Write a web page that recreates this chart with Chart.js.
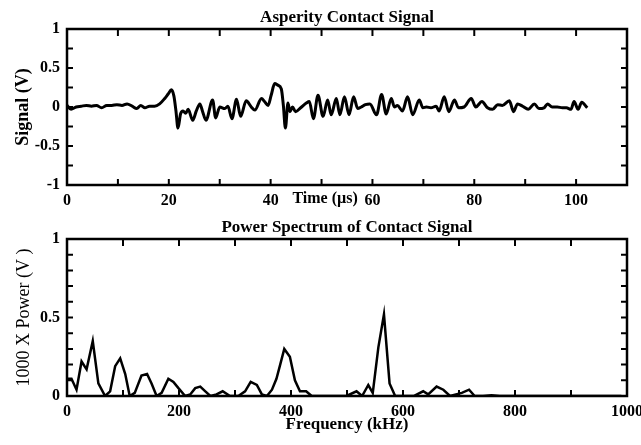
<!DOCTYPE html>
<html>
<head>
<meta charset="utf-8">
<script src="https://cdn.jsdelivr.net/npm/chart.js@4.4.1/dist/chart.umd.min.js"></script>
<style>
  body { margin: 0; background: #fff; }
  canvas { display: block; }
</style>
</head>
<body>
<canvas id="sigChart" width="641" height="212"></canvas>
<canvas id="powChart" width="641" height="233"></canvas>
<script>
// asperity contact signal
const timeUs = [
  0, 0.8, 1.8, 2.8, 3.8, 4.8, 5.8, 6.8, 7.8, 8.8,
  9.8, 10.8, 11.8, 12.8, 13.7, 14.5, 15.3, 16.2, 17.2, 18.2,
  19.2, 19.9, 20.5, 21.0, 21.4, 21.8, 22.3, 22.8, 23.3, 23.8,
  24.7, 25.4, 26.1, 26.6, 27.3, 28.6, 29.2, 30.0, 31.0, 31.6,
  32.4, 33.3, 34.1, 35.2, 36.2, 36.9, 38.2, 38.8, 39.5, 40.1,
  40.8, 41.4, 42.1, 42.5, 42.9, 43.4, 43.8, 44.3, 44.9, 45.9,
  47.0, 47.6, 48.4, 49.3, 50.3, 51.2, 51.9, 52.9, 53.6, 54.5,
  55.4, 56.3, 57.1, 57.8, 58.6, 59.5, 60.8, 61.8, 62.7, 63.7,
  64.3, 64.9, 65.9, 66.9, 67.9, 69.2, 69.9, 70.6, 71.5, 72.5,
  73.1, 74.1, 75.0, 76.1, 76.9, 78.0, 79.4, 80.3, 81.5, 82.6,
  83.6, 84.6, 85.5, 86.9, 87.7, 88.5, 89.5, 90.6, 91.8, 92.7,
  93.7, 94.4, 95.3, 96.3, 97.3, 98.1, 99.0, 99.6, 100.4, 101.1,
  102.2
];
const signalV = [
  0.02, -0.03, 0.0, 0.01, 0.02, 0.01, 0.02, -0.01, 0.02, 0.02,
  0.03, 0.02, 0.04, 0.01, -0.02, 0.02, -0.01, 0.01, 0.01, 0.04,
  0.11, 0.17, 0.22, 0.14, -0.05, -0.27, -0.09, -0.05, -0.08, -0.03,
  -0.17, -0.05, 0.04, -0.05, -0.17, 0.09, -0.14, 0.0, -0.02, 0.01,
  -0.15, 0.10, -0.12, 0.08, 0.0, -0.04, 0.11, 0.07, 0.02, 0.15,
  0.30, 0.28, 0.23, 0.02, -0.27, 0.05, -0.06, 0.0, -0.06, -0.01,
  0.05, 0.07, -0.15, 0.15, -0.12, 0.09, -0.10, 0.11, -0.10, 0.13,
  -0.10, 0.13, -0.02, 0.0, 0.03, 0.04, -0.10, 0.16, -0.09, 0.11,
  0.0, 0.02, -0.05, 0.13, -0.10, 0.09, -0.01, 0.0, -0.01, 0.01,
  -0.05, 0.13, -0.06, 0.09, -0.01, 0.0, 0.11, 0.0, 0.07, -0.01,
  -0.03, 0.03, 0.02, 0.08, -0.06, 0.04, 0.01, -0.03, 0.04, -0.02,
  -0.01, 0.04, 0.0, 0.0, -0.01, -0.01, -0.03, 0.07, -0.03, 0.06,
  -0.01
];

// power spectrum
const freqKHz = [
  0, 8, 17, 26, 35, 46, 56, 68, 77, 86,
  95, 104, 112, 121, 133, 143, 151, 160, 169, 181,
  190, 199, 211, 220, 229, 238, 247, 256, 267, 278,
  291, 306, 318, 328, 339, 348, 357, 366, 374, 380,
  388, 398, 407, 416, 427, 437, 452, 482, 499, 517,
  527, 538, 546, 556, 566, 576, 586, 619, 636, 645,
  660, 672, 684, 705, 718, 728, 743, 758, 773, 990
];
const powerV = [
  0.11, 0.11, 0.04, 0.22, 0.17, 0.35, 0.08, 0.0, 0.03, 0.19,
  0.24, 0.14, 0.0, 0.02, 0.13, 0.14, 0.08, 0.0, 0.02, 0.11,
  0.09, 0.05, 0.0, 0.01, 0.05, 0.06, 0.03, 0.0, 0.01, 0.03,
  0.0, 0.0, 0.03, 0.09, 0.07, 0.01, 0.0, 0.04, 0.11, 0.19,
  0.30, 0.25, 0.10, 0.03, 0.03, 0.0, 0.0, 0.0, 0.0, 0.03,
  0.0, 0.07, 0.02, 0.31, 0.52, 0.08, 0.0, 0.0, 0.03, 0.01,
  0.06, 0.04, 0.0, 0.02, 0.04, 0.0, 0.0, 0.005, 0.0, 0.0
];

const timeTicks = [0, 20, 40, 60, 80, 100];
const timeMinor = [10, 20, 30, 40, 50, 60, 70, 80, 90, 100];
const signalTicks = [-1, -0.5, 0, 0.5, 1];
const signalMinor = [-0.75, -0.5, -0.25, 0, 0.25, 0.5, 0.75];
const freqTicks = [0, 200, 400, 600, 800, 1000];
const freqMinor = [100, 200, 300, 400, 500, 600, 700, 800, 900];
const powerTicks = [0, 0.5, 1];
const powerMinor = [0.1, 0.2, 0.3, 0.4, 0.5, 0.6, 0.7, 0.8, 0.9];

const serif = '"Liberation Serif", "Times New Roman", serif';
Chart.defaults.font.family = serif;
Chart.defaults.color = '#000';

// box round the plot, inward ticks and the titles
const framePlugin = {
  id: 'frame',
  afterDraw(chart, args, opts) {
    const { ctx, chartArea: a } = chart;
    const x = chart.scales.x, y = chart.scales.y;
    ctx.save();
    ctx.strokeStyle = '#000';
    ctx.lineWidth = 2;
    ctx.beginPath();
    opts.xMinor.forEach(v => {
      const px = x.getPixelForValue(v);
      ctx.moveTo(px, a.top); ctx.lineTo(px, a.top + 7);
      ctx.moveTo(px, a.bottom); ctx.lineTo(px, a.bottom - 6);
    });
    opts.yMinor.forEach(v => {
      const py = y.getPixelForValue(v);
      ctx.moveTo(a.left, py); ctx.lineTo(a.left + 6, py);
      ctx.moveTo(a.right, py); ctx.lineTo(a.right - 6, py);
    });
    ctx.stroke();
    ctx.lineWidth = 2.5;
    ctx.strokeRect(a.left, a.top, a.right - a.left, a.bottom - a.top);

    ctx.fillStyle = '#000';
    ctx.textAlign = 'center';
    ctx.textBaseline = 'middle';
    ctx.font = 'bold 17px ' + serif;
    ctx.fillText(opts.title, (a.left + a.right) / 2, a.top - 11);
    if (opts.inlineLabel) {
      ctx.font = 'bold 16px ' + serif;
      ctx.fillText(opts.inlineLabel, x.getPixelForValue(opts.inlineAt), a.bottom + 14);
    }
    ctx.restore();
  }
};

function makeChart(id, xs, ys, cfg) {
  const pts = xs.map((v, i) => ({ x: v, y: ys[i] }));
  return new Chart(document.getElementById(id), {
    type: 'line',
    data: {
      datasets: [{
        data: pts,
        borderColor: '#000',
        borderWidth: cfg.lineWidth,
        pointRadius: 0,
        tension: cfg.tension,
        cubicInterpolationMode: cfg.tension ? 'monotone' : 'default',
        fill: false
      }]
    },
    options: {
      responsive: false,
      animation: false,
      devicePixelRatio: 1,
      layout: { padding: { top: cfg.padTop, right: 14, left: 0, bottom: 0 } },
      plugins: {
        legend: { display: false },
        tooltip: { enabled: false },
        frame: {
          title: cfg.title,
          xMinor: cfg.xMinor,
          yMinor: cfg.yMinor,
          inlineLabel: cfg.inlineLabel,
          inlineAt: cfg.inlineAt
        }
      },
      scales: {
        x: {
          type: 'linear',
          min: cfg.xMin, max: cfg.xMax,
          grid: { display: false, drawTicks: false },
          border: { display: false },
          ticks: {
            padding: 6,
            maxRotation: 0,
            font: { size: 16, weight: 'bold' },
            callback: v => String(v)
          },
          afterBuildTicks: s => { s.ticks = cfg.xTicks.map(v => ({ value: v })); },
          afterFit: s => { s.height = cfg.xHeight; s.paddingLeft = 0; s.paddingRight = 0; },
          title: cfg.xTitle ? {
            display: true,
            text: cfg.xTitle,
            font: { size: 17, weight: 'bold' },
            padding: { top: 0, bottom: 10 }
          } : { display: false }
        },
        y: {
          type: 'linear',
          min: cfg.yMin, max: cfg.yMax,
          grid: { display: false, drawTicks: false },
          border: { display: false },
          ticks: {
            padding: 7,
            font: { size: 16, weight: 'bold' },
            callback: v => String(v)
          },
          afterBuildTicks: s => { s.ticks = cfg.yTicks.map(v => ({ value: v })); },
          afterFit: s => { s.width = 67; },
          title: {
            display: true,
            text: cfg.yTitle,
            font: { size: 18, weight: cfg.yTitleWeight },
            padding: { top: 13, bottom: 0 }
          }
        }
      }
    },
    plugins: [framePlugin]
  });
}

makeChart('sigChart', timeUs, signalV, {
  title: 'Asperity Contact Signal',
  xMin: 0, xMax: 110, yMin: -1, yMax: 1,
  xTicks: timeTicks, yTicks: signalTicks,
  xMinor: timeMinor, yMinor: signalMinor,
  yTitle: 'Signal (V)', yTitleWeight: 'bold',
  inlineLabel: 'Time (\u00b5s)', inlineAt: 50.7,
  lineWidth: 3, tension: 0.4,
  padTop: 29, xHeight: 27
});

makeChart('powChart', freqKHz, powerV, {
  title: 'Power Spectrum of Contact Signal',
  xMin: 0, xMax: 1000, yMin: 0, yMax: 1,
  xTicks: freqTicks, yTicks: powerTicks,
  xMinor: freqMinor, yMinor: powerMinor,
  yTitle: '1000 X Power (V )', yTitleWeight: 'normal',
  xTitle: 'Frequency (kHz)',
  lineWidth: 2.5, tension: 0,
  padTop: 27, xHeight: 49
});
</script>
</body>
</html>
